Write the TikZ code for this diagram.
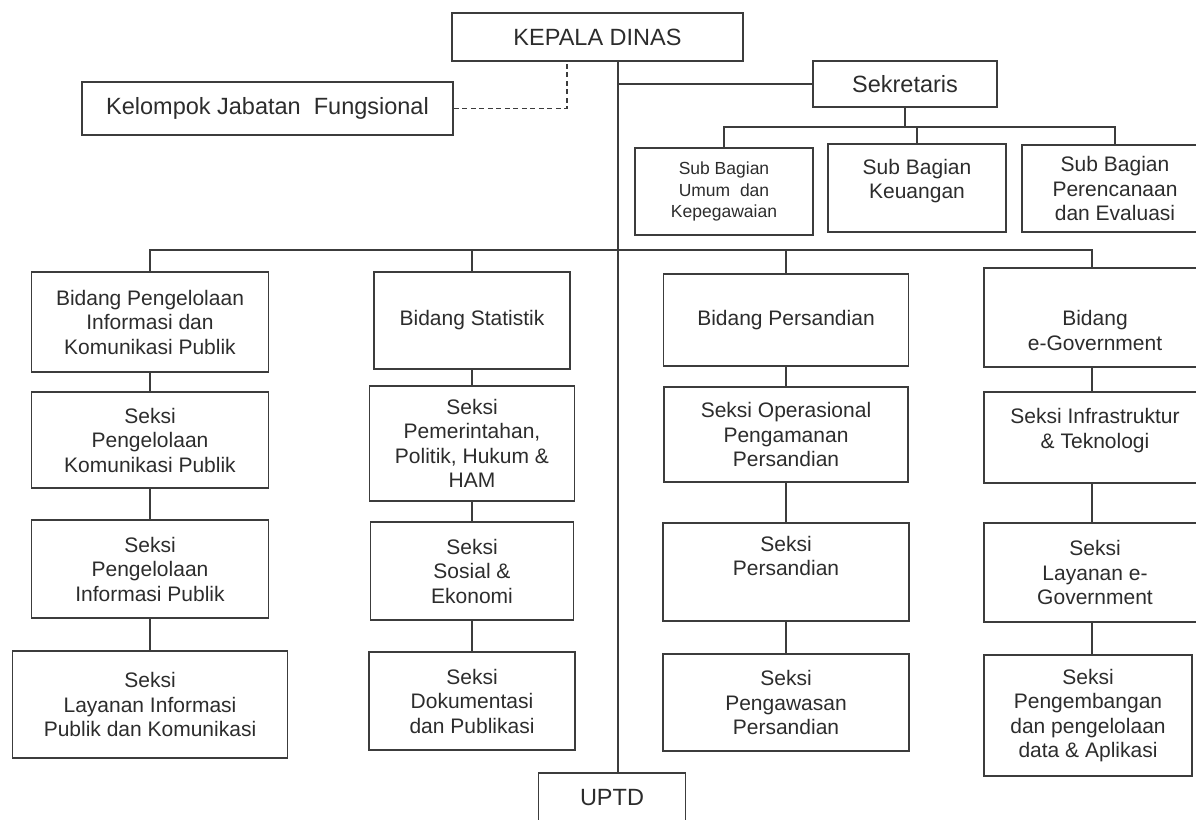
\documentclass[tikz,border=0pt]{standalone}
\usepackage{fontspec}
\setmainfont{Liberation Sans}
\usepackage{tikz}
\definecolor{inkgray}{HTML}{3C3C3C}
\definecolor{textgray}{HTML}{2C2C2C}
\newcommand{\fbig}{\fontsize{23.5}{27}\selectfont}
\newcommand{\fmid}{\fontsize{21}{24.5}\selectfont}
\newcommand{\fsml}{\fontsize{17.5}{21.5}\selectfont}
\newcommand{\lift}{\\[-6pt]\mbox{}}

\begin{document}
\begin{tikzpicture}[
  x=1pt,y=-1pt,
  font=\fmid,
  box/.style={draw=inkgray,line width=1.6pt,align=center,text=textgray,inner sep=2pt},
  conn/.style={draw=inkgray,line width=1.5pt},
  dline/.style={draw=inkgray,line width=1.5pt,dash pattern=on 5pt off 3.5pt}
]
\useasboundingbox (0,0) rectangle (1196,819);

% top level
\node[box,font=\fbig,minimum width=291pt,minimum height=48pt] (kadis) at (597.5,37) {KEPALA DINAS};
\node[box,font=\fbig,minimum width=371pt,minimum height=53pt] (kjf) at (267.5,108.5) {Kelompok Jabatan~ Fungsional};
\node[box,font=\fbig,minimum width=184pt,minimum height=46pt] (sekr) at (905,84) {Sekretaris};
\node[box,font=\fbig,minimum width=147pt,minimum height=50pt] (uptd) at (612,798) {UPTD};

% sekretariat
\node[box,font=\fsml,minimum width=178pt,minimum height=87pt] (sbu) at (724,191.5) {Sub Bagian\\Umum~ dan\\Kepegawaian};
\node[box,minimum width=178pt,minimum height=88pt] (sbk) at (917,188) {Sub Bagian\\Keuangan\lift};
\node[box,minimum width=186pt,minimum height=87pt] (sbp) at (1115,188.5) {Sub Bagian\\Perencanaan\\dan Evaluasi};

% bidang
\node[box,minimum width=237pt,minimum height=100pt] (bpik) at (150,322) {Bidang Pengelolaan\\Informasi dan\\Komunikasi Publik};
\node[box,minimum width=196pt,minimum height=97pt] (bstat) at (472,320.5) {Bidang Statistik};
\node[box,minimum width=245pt,minimum height=92pt] (bsan) at (786,320) {Bidang Persandian};
\node[box,minimum width=222pt,minimum height=99pt] (begov) at (1095,317.5) {\strut\\Bidang\\e-Government};

% seksi, kolom 1
\node[box,minimum width=237pt,minimum height=96pt] (s11) at (150,440) {Seksi\\Pengelolaan\\Komunikasi Publik};
\node[box,minimum width=237pt,minimum height=98pt] (s12) at (150,569) {Seksi\\Pengelolaan\\Informasi Publik};
\node[box,minimum width=275pt,minimum height=107pt] (s13) at (150,704.5) {Seksi\\Layanan Informasi\\Publik dan Komunikasi};

% seksi, kolom 2
\node[box,minimum width=205pt,minimum height=115pt] (s21) at (472,443.5) {Seksi\\Pemerintahan,\\Politik, Hukum \&\\HAM};
\node[box,minimum width=203pt,minimum height=98pt] (s22) at (472,571) {Seksi\\Sosial \&\\Ekonomi};
\node[box,minimum width=206pt,minimum height=98pt] (s23) at (472,701) {Seksi\\Dokumentasi\\dan Publikasi};

% seksi, kolom 3
\node[box,minimum width=244pt,minimum height=95pt] (s31) at (786,434.5) {Seksi Operasional\\Pengamanan\\Persandian};
\node[box,minimum width=246pt,minimum height=98pt] (s32) at (786,572) {Seksi\\Persandian\\\strut};
\node[box,minimum width=246pt,minimum height=97pt] (s33) at (786,702.5) {Seksi\\Pengawasan\\Persandian};

% seksi, kolom 4
\node[box,minimum width=222pt,minimum height=91pt] (s41) at (1095,437.5) {Seksi Infrastruktur\\\& Teknologi\lift};
\node[box,minimum width=222pt,minimum height=99pt] (s42) at (1095,572.5) {Seksi\\Layanan e-\\Government};
\node[box,minimum width=208pt,minimum height=121pt] (s43) at (1088,715.5) {Seksi\\Pengembangan\\dan pengelolaan\\data \& Aplikasi};

% garis
\coordinate (spine) at (618,250);
\coordinate (kd) at (567,0);
\coordinate (sbr) at (905,127);
\coordinate (c4) at (1092,0);
\draw[dline] (kjf.east) -| (kadis.south -| kd);
\draw[conn] (kadis.south -| spine) -- (uptd.north -| spine);
\draw[conn] (sekr.west) -- (sekr.west -| spine);
\draw[conn] (sekr.south) -- (sbr);
\draw[conn] (sbu.north) |- (sbr) -| (sbp.north);
\draw[conn] (sbk.north) -- (sbk.north |- sbr);
\draw[conn] (bpik.north) |- (spine) -| (begov.north -| c4);
\draw[conn] (bstat.north) -- (bstat.north |- spine);
\draw[conn] (bsan.north) -- (bsan.north |- spine);
\foreach \a/\b in {bpik/s11,s11/s12,s12/s13,bstat/s21,s21/s22,s22/s23,bsan/s31,s31/s32,s32/s33}
  \draw[conn] (\a.south) -- (\a.south |- \b.north);
\foreach \a/\b in {begov/s41,s41/s42,s42/s43}
  \draw[conn] (\a.south -| c4) -- (\b.north -| c4);
\end{tikzpicture}
\end{document}
